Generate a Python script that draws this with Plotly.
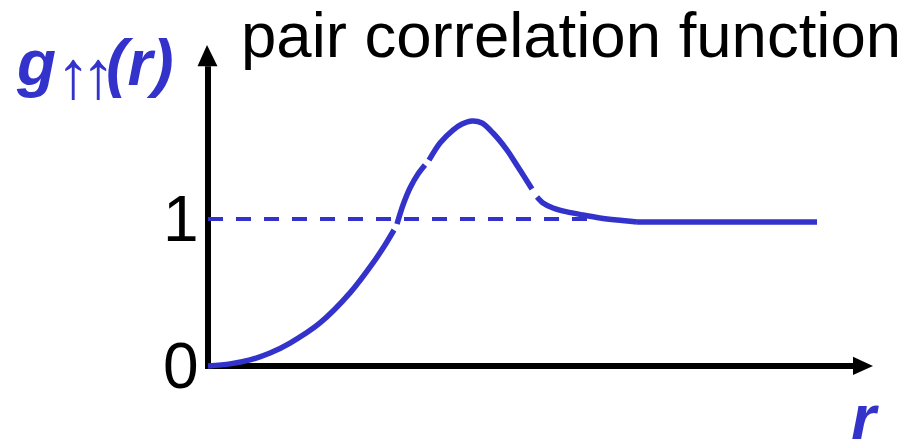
import plotly.graph_objects as go

# Pair correlation function g(r) for parallel spins, drawn as hand-joined segments
seg1_r = [0.0, 0.22, 0.42, 0.62, 0.82, 1.12, 1.42, 1.65, 1.77, 1.86]
seg1_g = [0.0, 0.014, 0.041, 0.088, 0.156, 0.293, 0.497, 0.701, 0.823, 0.925]

seg2_r = [1.89, 1.95, 2.02, 2.10, 2.17]
seg2_g = [0.966, 1.095, 1.211, 1.306, 1.367]

seg3_r = [2.21, 2.32, 2.45, 2.54, 2.64, 2.74, 2.85, 2.99, 3.12, 3.24]
seg3_g = [1.401, 1.517, 1.605, 1.646, 1.667, 1.653, 1.585, 1.469, 1.333, 1.204]

seg4_r = [3.29, 3.35, 3.45, 3.59, 3.75, 3.92, 4.09, 4.29]
seg4_g = [1.150, 1.109, 1.075, 1.048, 1.027, 1.007, 0.993, 0.980]

tail_r = [4.29, 6.09]
tail_g = [0.980, 0.980]

# Reference level g = 1
ref_r = [0.0, 3.80]
ref_g = [1.0, 1.0]

tick_vals = [0, 1]
tick_text = ["0", "1"]

BLUE = "#3333cc"
FONT = "Liberation Sans, Arial, sans-serif"

fig = go.Figure()

fig.add_trace(go.Scatter(x=ref_r, y=ref_g, mode="lines",
                         line=dict(color=BLUE, width=4, dash="15px,13px"),
                         hoverinfo="skip"))

for xs, ys in [(seg1_r, seg1_g), (seg2_r, seg2_g), (seg3_r, seg3_g),
               (seg4_r, seg4_g), (tail_r, tail_g)]:
    fig.add_trace(go.Scatter(x=xs, y=ys, mode="lines",
                             line=dict(color=BLUE, width=5.5, shape="spline", smoothing=0.8),
                             hoverinfo="skip"))

# Axes with arrowheads
x_end, y_end = 6.45, 2.04
shapes = [
    dict(type="line", x0=-0.03, y0=0, x1=x_end, y1=0, line=dict(color="black", width=6), layer="below"),
    dict(type="line", x0=0, y0=-0.02, x1=0, y1=y_end, line=dict(color="black", width=6), layer="below"),
    dict(type="path", path=f"M {x_end},0.062 L 6.65,0 L {x_end},-0.062 Z",
         fillcolor="black", line=dict(width=0), layer="below"),
    dict(type="path", path=f"M -0.105,{y_end} L -0.01,2.184 L 0.095,{y_end} Z",
         fillcolor="black", line=dict(width=0), layer="below"),
]

annotations = []
for v, t in zip(tick_vals, tick_text):
    annotations.append(dict(x=-0.27, y=v, xref="x", yref="y", text=t, showarrow=False,
                            xanchor="center", yanchor="middle",
                            font=dict(family=FONT, size=64, color="black")))

annotations.append(dict(x=239 / 909, y=1.0 + 2 / 439, xref="paper", yref="paper",
                        text="pair correlation function", showarrow=False,
                        xanchor="left", yanchor="top",
                        font=dict(family=FONT, size=63.5, color="black")))

annotations.append(dict(x=14 / 909, y=1 - 25 / 439, xref="paper", yref="paper",
                        text=("<b><i>g</i></b><sub><span style='font-size:68px;letter-spacing:-9px'>"
                              "↑↑</span></sub><b><i>(r)</i></b>"),
                        showarrow=False,
                        xanchor="left", yanchor="top",
                        font=dict(family=FONT, size=64, color=BLUE)))

annotations.append(dict(x=865 / 909, y=-17 / 439, xref="paper", yref="paper",
                        text="<b><i>r</i></b>", showarrow=False,
                        xanchor="center", yanchor="bottom",
                        font=dict(family=FONT, size=64, color=BLUE)))

fig.update_layout(
    width=909, height=439,
    margin=dict(l=0, r=0, t=0, b=0),
    paper_bgcolor="white", plot_bgcolor="white",
    showlegend=False,
    xaxis=dict(range=[-2.08, 7.01], visible=False, fixedrange=True),
    yaxis=dict(range=[-0.497, 2.490], visible=False, fixedrange=True),
    shapes=shapes,
    annotations=annotations,
)

fig.write_html("out.html")
